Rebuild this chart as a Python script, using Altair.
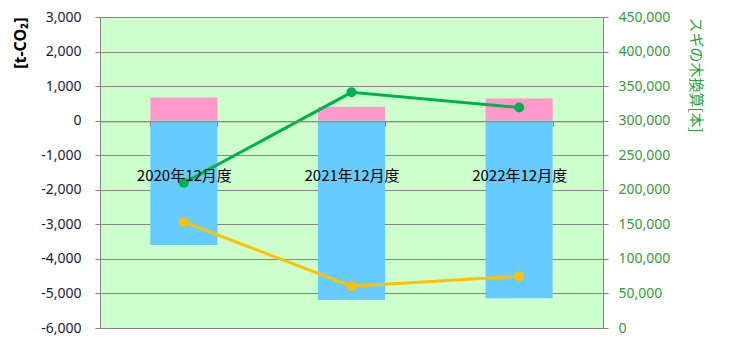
import altair as alt
import pandas as pd

categories = ["2020年12月度", "2021年12月度", "2022年12月度"]
pink_vals = [670, 400, 640]
blue_vals = [-3600, -5190, -5140]
net_vals = [-2930, -4790, -4500]
tree_vals = [210000, 341000, 319000]

left_ticks = list(range(-6000, 3001, 1000))
right_ticks = list(range(0, 450001, 50000))

bars = pd.DataFrame({
    "cat": categories * 2,
    "val": pink_vals + blue_vals,
    "series": ["増加"] * 3 + ["削減"] * 3,
})
net = pd.DataFrame({"cat": categories, "val": net_vals})
trees = pd.DataFrame({"cat": categories, "val": tree_vals})

xenc = alt.X(
    "cat:N", sort=categories, title=None,
    scale=alt.Scale(paddingInner=0.6, paddingOuter=0.3),
    axis=alt.Axis(
        orient="bottom", offset=-206.7, labelAngle=0, tickBand="extent",
        tickSize=5, tickColor="#868686", domainColor="#868686",
        labelPadding=42, labelFont="Noto Sans CJK JP", labelFontSize=15,
        labelColor="#000000", zindex=1, labelOverlap=False, labelLimit=300,
    ),
)

yscale = alt.Scale(domain=[-6000, 3000], nice=False)
yaxis = alt.Axis(
    values=left_ticks, format=",d", title="[t-CO₂]", titleAnchor="end",
    labelExpr="replace(datum.label, '\u2212', '-')",
    titleFont="Noto Sans", titleFontSize=16, titleFontWeight="bold",
    titleColor="#000000", titlePadding=12, labelOverlap=False,
    labelFont="Noto Sans", labelFontSize=14, labelColor="#1a1a3a",
    tickSize=5, tickColor="#868686", domainColor="#868686",
    gridColor="#868686", gridWidth=1, labelPadding=14,
)

bar_layer = alt.Chart(bars).mark_bar().encode(
    x=xenc,
    y=alt.Y("val:Q", stack=None, scale=yscale, axis=yaxis),
    color=alt.Color("series:N", scale=alt.Scale(domain=["増加", "削減"], range=["#FF99CC", "#66CCFF"]), legend=None),
)

net_layer = alt.Chart(net).mark_line(
    color="#FFC000", strokeWidth=3,
    point=alt.OverlayMarkDef(filled=True, color="#FFC000", size=100, opacity=1),
).encode(
    x=alt.X("cat:N", sort=categories),
    y=alt.Y("val:Q", scale=yscale, axis=yaxis),
)

left = alt.layer(bar_layer, net_layer)

tree_layer = alt.Chart(trees).mark_line(
    color="#00B050", strokeWidth=3,
    point=alt.OverlayMarkDef(filled=True, color="#00B050", size=100, opacity=1),
).encode(
    x=alt.X("cat:N", sort=categories),
    y=alt.Y(
        "val:Q", scale=alt.Scale(domain=[0, 450000], nice=False),
        axis=alt.Axis(
            orient="right", values=right_ticks, format=",d", grid=False,
            title="スギの木換算[本]", titleAnchor="end", titleAlign="left",
            titleColor="#2E9E3E",
            titleFont="Noto Sans CJK JP", titleFontSize=15, titleFontWeight="normal",
            titlePadding=18, labelOverlap=False,
            labelFont="Noto Sans", labelFontSize=14, labelColor="#3A9A3A",
            tickSize=5, tickColor="#868686", domainColor="#868686", labelPadding=10,
        ),
    ),
)

chart = alt.layer(left, tree_layer).resolve_scale(y="independent").properties(
    width=503, height=311,
    autosize=alt.AutoSizeParams(type="none"),
    padding={"left": 100, "top": 17, "right": 130, "bottom": 21},
    background="#FFFFFF",
).configure_view(fill="#CCFFCC", stroke=None)

chart.save("out.html", embed_options={"renderer": "svg", "actions": False})
